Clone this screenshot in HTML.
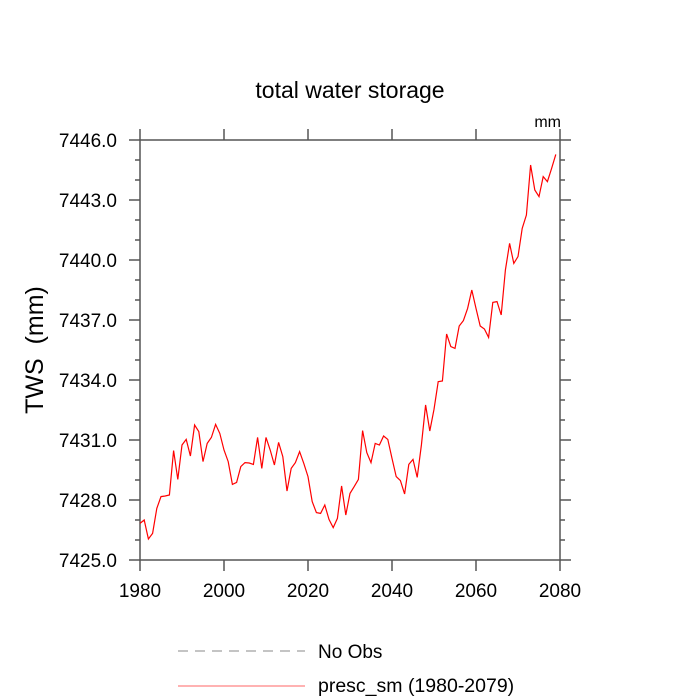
<!DOCTYPE html>
<html><head><meta charset="utf-8"><style>body{margin:0;background:#fff}svg{display:block;font-family:"Liberation Sans",sans-serif}</style></head>
<body>
<svg id="chart" width="700" height="700" viewBox="0 0 700 700">
<text x="350" y="98" font-size="23" text-anchor="middle">total water storage</text>
<text x="561" y="127" font-size="16" text-anchor="end">mm</text>
<text x="0" y="0" font-size="25" text-anchor="middle" transform="translate(43,350) rotate(-90)">TWS&#160;&#160;(mm)</text>
<g id="axes"></g>
<polyline id="series" fill="none" stroke="#ff0000" stroke-width="1.2"/>
<line x1="178" y1="651" x2="305" y2="651" stroke="#888" stroke-width="1" stroke-dasharray="10,7"/>
<text x="318" y="658" font-size="19">No Obs</text>
<line x1="178" y1="686" x2="305" y2="686" stroke="#ff6666" stroke-width="1"/>
<text x="318" y="692" font-size="19.5">presc_sm (1980-2079)</text>
</svg>
<script>
const startYear = 1980;
const values = [7426.83,7427.0,7426.05,7426.33,7427.58,7428.17,7428.2,7428.25,7430.47,7429.03,7430.75,7431.03,7430.2,7431.75,7431.42,7429.92,7430.83,7431.13,7431.78,7431.33,7430.5,7429.92,7428.78,7428.88,7429.67,7429.87,7429.85,7429.78,7431.13,7429.58,7431.13,7430.5,7429.75,7430.88,7430.17,7428.45,7429.58,7429.87,7430.42,7429.83,7429.17,7427.92,7427.37,7427.33,7427.75,7427.03,7426.62,7427.08,7428.7,7427.25,7428.33,7428.67,7429.03,7431.47,7430.37,7429.87,7430.83,7430.75,7431.2,7431.03,7430.08,7429.17,7428.97,7428.3,7429.78,7430.03,7429.13,7430.75,7432.75,7431.45,7432.53,7433.92,7433.95,7436.3,7435.67,7435.58,7436.7,7436.97,7437.58,7438.5,7437.58,7436.7,7436.55,7436.13,7437.88,7437.92,7437.25,7439.5,7440.83,7439.83,7440.17,7441.58,7442.25,7444.75,7443.5,7443.17,7444.17,7443.92,7444.58,7445.28];
const xTicks = [1980,2000,2020,2040,2060,2080];
const yTicks = [7425,7428,7431,7434,7437,7440,7443,7446];
const L=140,R=560,T=140,B=560,x0=1980,x1=2080,y0=7425,y1=7446;
const sx=v=>L+(v-x0)/(x1-x0)*(R-L);
const sy=v=>B-(v-y0)/(y1-y0)*(B-T);
const NS='http://www.w3.org/2000/svg';
const g=document.getElementById('axes');
function mk(tag,a){const e=document.createElementNS(NS,tag);for(const k in a)e.setAttribute(k,a[k]);g.appendChild(e);return e;}
const frame=mk('rect',{x:L,y:T,width:R-L,height:B-T,fill:'none',stroke:'#555',"stroke-width":1.5});


for(const t of xTicks){const x=sx(t);
 const a=mk('line',{x1:x,y1:B,x2:x,y2:B+11,stroke:'#555',"stroke-width":1.5});
 
 
 const b=mk('line',{x1:x,y1:T,x2:x,y2:T-11,stroke:'#555',"stroke-width":1.5});
 
 
 const tx=mk('text',{x:x,y:B+37,"font-size":19,"text-anchor":"middle"});tx.textContent=t;
 
 
}
for(let v=y0;v<=y1;v++){const y=sy(v);const maj=(v-y0)%3===0;const len=maj?11:5;
 const a=mk('line',{x1:L,y1:y,x2:L-len,y2:y,stroke:'#555',"stroke-width":1.5});
 
 
 const b=mk('line',{x1:R,y1:y,x2:R+len,y2:y,stroke:'#555',"stroke-width":1.5});
 
 
}
for(const t of yTicks){const tx=mk('text',{x:117,y:sy(t)+7,"font-size":19,"text-anchor":"end"});tx.textContent=t.toFixed(1);
 
 
}
document.getElementById('series').setAttribute('points',values.map((v,i)=>sx(startYear+i).toFixed(1)+','+sy(v).toFixed(1)).join(' '));
</script>
</body></html>
